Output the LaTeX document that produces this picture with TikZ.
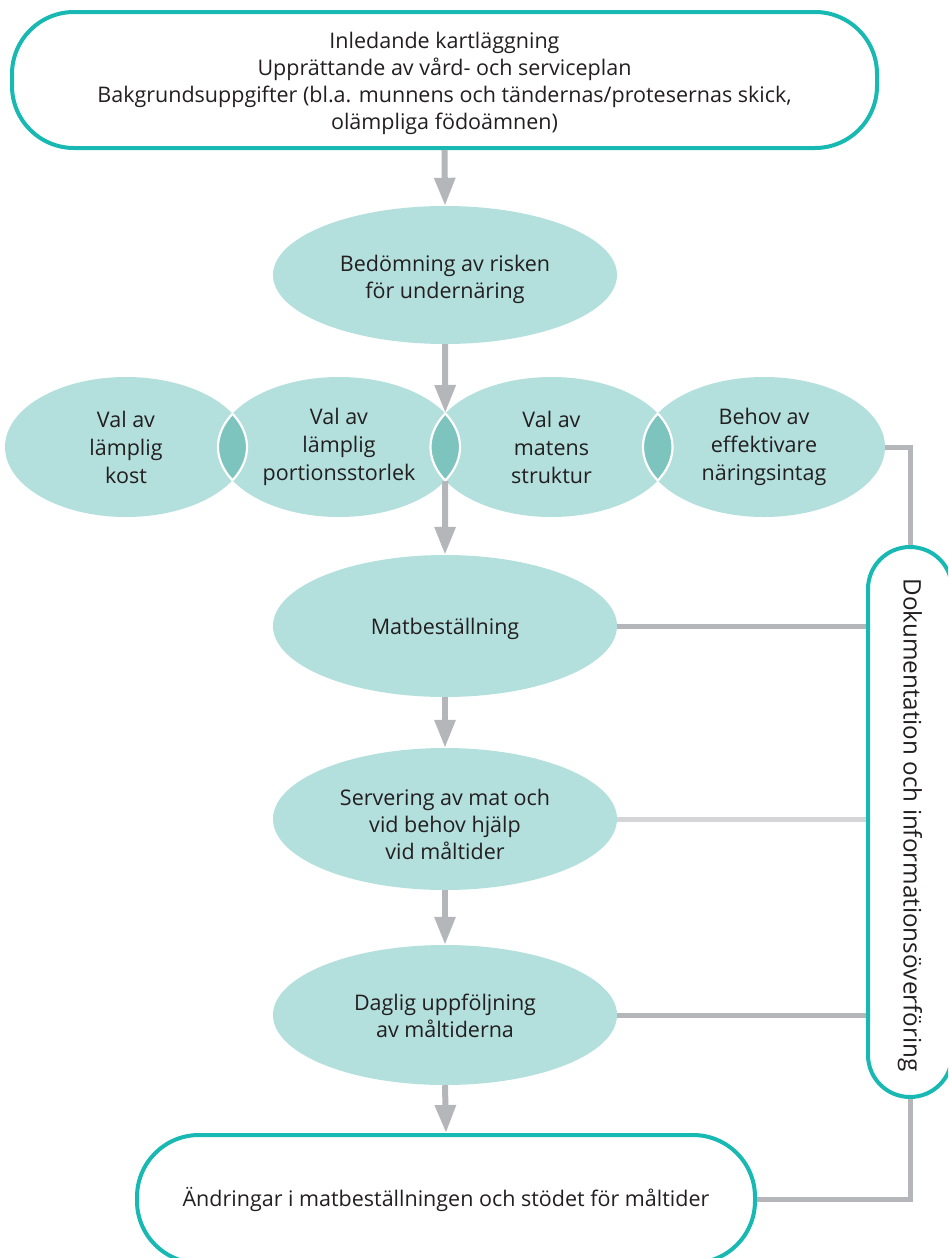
\documentclass[tikz,border=0pt]{standalone}
\usepackage{fontspec}
\setmainfont{Open Sans}
\usetikzlibrary{arrows.meta,shapes.geometric,calc}

\definecolor{tealline}{HTML}{17B9B2}
\definecolor{softteal}{HTML}{B3DFDD}
\definecolor{lensteal}{HTML}{7DC3BE}
\definecolor{flowgray}{HTML}{B5B6BA}
\definecolor{palegray}{HTML}{D5D5D7}
\definecolor{inktext}{HTML}{231F20}

\tikzset{
  pill/.style={draw=tealline, line width=4pt, fill=white, rounded corners=62pt,
    inner sep=0pt},
  stageblob/.style={ellipse, fill=softteal, draw=none, minimum width=344pt,
    minimum height=138pt, inner sep=0pt},
  choiceblob/.style={ellipse, fill=softteal, draw=none, minimum width=242pt,
    minimum height=140pt, inner sep=0pt},
  caption/.style={align=center, text=inktext, inner sep=0pt,
    font=\fontsize{21.5}{27}\selectfont},
  choicetext/.style={caption, font=\fontsize{21.5}{28}\selectfont},
  flowarrow/.style={draw=flowgray, line width=6pt,
    -{Triangle[width=20pt,length=28pt]}, color=flowgray},
  link/.style={draw=flowgray, line width=5pt},
  palelink/.style={draw=palegray, line width=5pt},
}

\begin{document}
\begin{tikzpicture}[x=1pt,y=-1pt]
\clip (0,0) rectangle (948,1258);
\useasboundingbox (0,0) rectangle (948,1258);

% top box
\node[pill, minimum width=865pt, minimum height=136pt] (top) at (444.5,80) {};
\node[caption] (topText) at ($(top.center)+(0,3)$)
  {Inledande kartläggning\\Upprättande av vård- och serviceplan\\
   Bakgrundsuppgifter (bl.a. munnens och tändernas/protesernas skick,\\
   olämpliga födoämnen)};

% risk assessment
\node[stageblob] (risk) at (445,275) {};
\node[caption] (riskText) at ($(risk.center)+(0,4)$) {Bedömning av risken\\för undernäring};

% four overlapping choices
\node[choiceblob] (e1) at (126,447) {};
\node[choiceblob] (e2) at (339,447) {};
\node[choiceblob] (e3) at (551.5,447) {};
\node[choiceblob] (e4) at (764,447) {};

% lens shaped overlaps
\foreach \a/\b in {e1/e2,e2/e3,e3/e4}{
  \begin{scope}
    \clip (\a.center) ellipse [x radius=121pt, y radius=70pt];
    \fill[lensteal] (\b.center) ellipse [x radius=121pt, y radius=70pt];
    \draw[white, line width=2.2pt] (\b.center) ellipse [x radius=121pt, y radius=70pt];
  \end{scope}
  \begin{scope}
    \clip (\b.center) ellipse [x radius=121pt, y radius=70pt];
    \draw[white, line width=2.2pt] (\a.center) ellipse [x radius=121pt, y radius=70pt];
  \end{scope}
}

\node[choicetext] (e1Text) at (e1.center) {Val av\\lämplig\\kost};
\node[choicetext] (e2Text) at (e2.center) {Val av\\lämplig\\portionsstorlek};
\node[choicetext] (e3Text) at (e3.center) {Val av\\matens\\struktur};
\node[choicetext] (e4Text) at (e4.center) {Behov av\\effektivare\\näringsintag};

\coordinate (j23top) at ($(e2.center)!0.5!(e3.center)+(0,-34)$);
\coordinate (j23bot) at ($(e2.center)!0.5!(e3.center)+(0,34)$);

% lower stages
\node[stageblob, minimum height=142pt] (order) at (445,626) {};
\node[caption] (orderText) at ($(order.center)+(0,3)$) {Matbeställning};
\node[stageblob, minimum height=142pt] (serve) at (445,819) {};
\node[caption] (serveText) at ($(serve.center)+(0,5)$) {Servering av mat och\\vid behov hjälp\\vid måltider};
\node[stageblob, minimum height=140pt] (follow) at (445,1015) {};
\node[caption] (followText) at ($(follow.center)+(0,1)$) {Daglig uppföljning\\av måltiderna};

% bottom box
\node[pill, minimum width=618pt, minimum height=128pt] (change) at (446,1199) {};
\node[caption] (changeText) at (change.center) {Ändringar i matbeställningen och stödet för måltider};

% side box
\node[pill, rounded corners=42pt, minimum width=84pt, minimum height=550pt] (doc) at (910,822) {};
\node[caption, rotate=-90, font=\fontsize{24.2}{28}\selectfont] (docText) at ($(doc.center)+(0,3)$)
  {Dokumentation och informationsöverföring};

% main flow
\draw[flowarrow] (top.south) -- (risk.north);
\draw[flowarrow] (risk.south) -- (j23top);
\draw[flowarrow] (j23bot) -- (order.north);
\draw[flowarrow] (order.south) -- (serve.north);
\draw[flowarrow] (serve.south) -- (follow.north);
\draw[flowarrow] (follow.south) -- (change.north);

% links to documentation
\draw[link] (e4.east) -| (doc.north);
\draw[link] (order.east) -- (order.east -| doc.west);
\draw[palelink] (serve.east) -- (serve.east -| doc.west);
\draw[link] (follow.east) -- (follow.east -| doc.west);
\draw[link] (doc.south) |- (change.east);
\end{tikzpicture}
\end{document}
